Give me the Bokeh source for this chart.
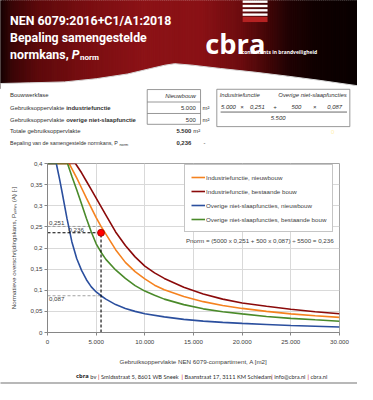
import numpy as np
from bokeh.plotting import figure
from bokeh.layouts import column
from bokeh.models import Range1d, Legend, LegendItem
from bokeh.core.properties import value
from bokeh.embed import file_html
from bokeh.resources import INLINE

# ---------------- data ----------------
series_names = ["Industriefunctie, nieuwbouw", "Industriefunctie, bestaande bouw",
                "Overige niet-slaapfuncties, nieuwbouw", "Overige niet-slaapfuncties, bestaande bouw"]
series_colors = ["#f5821f", "#8b0a0a", "#2b4f9e", "#4a8a2a"]

area_ind_new = [0, 2220, 2500, 3000, 3500, 4000, 4500, 5000, 5500, 6000, 7000, 8000, 9000, 10000,
                11000, 12000, 14000, 16000, 18000, 20000, 22500, 25000, 27500, 30000]
p_ind_new = [0.4, 0.4, 0.388, 0.366, 0.342, 0.318, 0.295, 0.272, 0.251, 0.233, 0.196, 0.166, 0.144,
             0.127, 0.112, 0.101, 0.085, 0.073, 0.064, 0.057, 0.050, 0.044, 0.0395, 0.0357]

area_ind_old = [0, 2870, 3500, 4000, 4500, 5000, 5500, 6000, 7000, 8000, 9000, 10000, 11000, 12000,
                14000, 16000, 18000, 20000, 22500, 25000, 27500, 30000]
p_ind_old = [0.4, 0.4, 0.378, 0.358, 0.338, 0.318, 0.298, 0.278, 0.238, 0.206, 0.179, 0.157, 0.141,
             0.128, 0.107, 0.091, 0.079, 0.070, 0.062, 0.055, 0.049, 0.0443]

area_ovr_new = [0, 905, 1250, 1500, 2000, 2500, 3000, 3500, 4000, 4500, 5000, 5500, 6000, 7000, 8000,
                9000, 10000, 12000, 14000, 16000, 18000, 20000, 22500, 25000, 27500, 30000]
p_ovr_new = [0.4, 0.4, 0.362, 0.332, 0.27, 0.215, 0.175, 0.147, 0.125, 0.108, 0.096, 0.087, 0.079,
             0.066, 0.057, 0.050, 0.0445, 0.037, 0.031, 0.027, 0.024, 0.0215, 0.019, 0.0165, 0.0148, 0.013]

area_ovr_old = [0, 2055, 2500, 3000, 3500, 4000, 4500, 5000, 5500, 6000, 7000, 8000, 9000, 10000,
                11000, 12000, 14000, 16000, 18000, 20000, 22500, 25000, 27500, 30000]
p_ovr_old = [0.4, 0.4, 0.37, 0.338, 0.304, 0.27, 0.238, 0.21, 0.19, 0.173, 0.148, 0.128, 0.111, 0.098,
             0.088, 0.079, 0.066, 0.056, 0.049, 0.044, 0.038, 0.0335, 0.030, 0.0267]

x_ticks = [0, 5000, 10000, 15000, 20000, 25000, 30000]
x_tick_labels = ["0", "5.000", "10.000", "15.000", "20.000", "25.000", "30.000"]
y_ticks = [0, 0.05, 0.1, 0.15, 0.2, 0.25, 0.3, 0.35, 0.4]
y_tick_labels = ["0", "0,05", "0,1", "0,15", "0,2", "0,25", "0,3", "0,35", "0,4"]

bouwwerkfase = "Nieuwbouw"
area_industrie = 5000
area_overig = 500
area_total = 5500
p_industrie = 0.251
p_overig = 0.087
p_norm = 0.236


def nl_int(v):
    return f"{v:,}".replace(",", ".")


def nl_dec(v):
    return f"{v:.3f}".replace(".", ",")


W = 357
BL, BR = 47, 18          # chart borders; the column aligns every frame to these
S = W / 373.0


def fs(px):
    return f"{px * S:.2f}px"


def deco_fig(height, y0, y1):
    # frame is aligned with the chart frame; the x range maps the whole canvas
    # linearly onto the reference's 0..373 layout
    f = figure(width=W, height=height, x_range=Range1d(BL / S, (W - BR) / S), y_range=Range1d(y0, y1),
               output_backend="svg", toolbar_location=None, min_border=0,
               min_border_left=BL, min_border_right=BR,
               x_axis_location=None, y_axis_location=None)
    f.grid.visible = False
    f.outline_line_color = None
    f.background_fill_color = "white"
    f.border_fill_color = "white"
    return f


def unclip(fig):
    for r in fig.renderers:
        r.level = "annotation"


# ---------------- header + table ----------------
hf = deco_fig(158, 165, 0)

stops_x = [0, 12, 40, 90, 150, 210, 250, 275, 300, 330, 373]
stops_c = ["#140203", "#3a0607", "#5e0a0c", "#7a0f12", "#8c1317", "#8a1216", "#6e0d10",
           "#4a0809", "#220304", "#100101", "#0a0101"]
rgb = np.array([[int(c[i:i + 2], 16) for i in (1, 3, 5)] for c in stops_c], dtype=float)
edges = np.arange(0, 374, 2.0)
cols = []
for m in edges + 1.0:
    r = [np.interp(m, stops_x, rgb[:, k]) for k in range(3)]
    cols.append("#%02x%02x%02x" % tuple(int(round(v)) for v in r))
hf.quad(left=edges, right=edges + 2.8, top=0, bottom=92, fill_color=cols, line_color=cols, line_width=0.5)

curve_x = [0, 30, 67, 100, 133, 157, 172, 182, 200, 230, 267, 300, 333, 373]
curve_y = [86.7, 86, 85, 81.7, 76.7, 71, 67.5, 66, 67.5, 71, 75, 79, 83.3, 89]
hf.patch(curve_x + [373, 0], curve_y + [96, 96], fill_color="white", line_color=None)
hf.line(curve_x, curve_y, line_color="#d8d8d8", line_width=1)

white = "white"
hfont = value("Roboto")
hf.text(x=[10, 10, 10], y=[21.7, 39, 56.5], text=["NEN 6079:2016+C1/A1:2018", "Bepaling samengestelde", "normkans,"],
        text_font=hfont, text_font_style="bold", text_font_size=fs(12.9), text_color=white,
        text_baseline="alphabetic")
hf.text(x=[74.5], y=[56.5], text=["P"], text_font=hfont,
        text_font_style="bold italic", text_font_size=fs(12.9), text_color=white, text_baseline="alphabetic")
hf.text(x=[83], y=[60], text=["norm"], text_font=hfont,
        text_font_style="bold", text_font_size=fs(8.4), text_color=white, text_baseline="alphabetic")

# logo
hf.quad(left=253, right=279, top=[0, 4.5, 9, 13.5], bottom=[2.5, 7, 11.5, 16],
        fill_color="white", line_color=None)
hf.quad(left=253, right=279, top=17, bottom=22.5, fill_color="#b52222", line_color=None)
hf.text(x=[214], y=[45], text=["cbra"], text_font=value("Open Sans"), text_font_style="bold",
        text_font_size=fs(28.5), text_color=white, text_baseline="alphabetic")
hf.text(x=[252], y=[54], text=["consultants in brandveiligheid"], text_font=value("Open Sans"),
        text_font_style="bold", text_font_size=fs(5.2), text_color=white, text_baseline="middle")

# table
tf = value("Liberation Sans")
TS = 6.2
tsz = fs(TS)
tcol = "#303030"
row_y = [99, 112.7, 124.3, 136.7, 149]
hf.text(x=[10] * 4, y=[row_y[0], row_y[1], row_y[2], row_y[3]],
        text=["Bouwwerkfase", "Gebruiksoppervlakte", "Gebruiksoppervlakte", "Totale gebruiksoppervlakte"],
        text_font=tf, text_font_size=tsz, text_color=tcol, text_baseline="middle")
hf.text(x=[10 + 9.45 * TS] * 2, y=[row_y[1], row_y[2]], text=["industriefunctie", "overige niet-slaapfunctie"],
        text_font=tf, text_font_style="bold", text_font_size=tsz, text_color=tcol, text_baseline="middle")
hf.text(x=[10], y=[row_y[4]], text=["Bepaling van de samengestelde normkans, P"],
        text_font=tf, text_font_size=fs(5.6), text_color=tcol, text_baseline="middle")
hf.text(x=[10 + 20.34 * 5.6 + 0.3], y=[row_y[4] + 1.4], text=["norm"],
        text_font=tf, text_font_size=fs(4.0), text_color=tcol, text_baseline="middle")

hf.quad(left=153.3, right=209, top=93, bottom=129.3, fill_color=None, line_color="#7f7f7f", line_width=0.8)
hf.segment(x0=[153.3, 153.3], x1=[209, 209], y0=[106, 118], y1=[106, 118], line_color="#7f7f7f", line_width=0.8)
hf.text(x=[204], y=[99.5], text=[bouwwerkfase], text_font=tf, text_font_style="italic",
        text_font_size=tsz, text_color=tcol, text_baseline="middle", text_align="right")
hf.text(x=[204, 204], y=[row_y[1], row_y[2]], text=[nl_int(area_industrie), nl_int(area_overig)],
        text_font=tf, text_font_size=tsz, text_color=tcol, text_baseline="middle", text_align="right")
hf.text(x=[211, 211, 201.5], y=[row_y[1], row_y[2], row_y[3]], text=["m²", "m²", "m²"],
        text_font=tf, text_font_size=tsz, text_color=tcol, text_baseline="middle")
hf.text(x=[199.3, 199.3], y=[row_y[3], row_y[4]], text=[nl_int(area_total), nl_dec(p_norm)],
        text_font=tf, text_font_style="bold", text_font_size=tsz, text_color=tcol,
        text_baseline="middle", text_align="right")
hf.text(x=[212], y=[row_y[4]], text=["-"], text_font=tf, text_font_size=tsz, text_color=tcol,
        text_baseline="middle")

hf.quad(left=226, right=365, top=92.7, bottom=131.7, fill_color=None, line_color="#7f7f7f", line_width=0.8)
hf.segment(x0=[230], x1=[362], y0=[116.5], y1=[116.5], line_color="#404040", line_width=0.8)
hf.text(x=[250, 326], y=[99, 99], text=["Industriefunctie", "Overige niet-slaapfuncties"],
        text_font=tf, text_font_style="italic", text_font_size=tsz, text_color=tcol,
        text_baseline="middle", text_align="center")
hf.text(x=[238.2, 252.3, 268.3, 286.7, 309.2, 328.3, 349.2], y=[111] * 7,
        text=[nl_int(area_industrie), "×", nl_dec(p_industrie), "+", nl_int(area_overig), "×", nl_dec(p_overig)],
        text_font=tf, text_font_style="italic", text_font_size=tsz, text_color=tcol,
        text_baseline="middle", text_align="center")
hf.text(x=[290], y=[122.7], text=[nl_int(area_total)], text_font=tf, text_font_style="italic",
        text_font_size=tsz, text_color=tcol, text_baseline="middle", text_align="center")
hf.text(x=[347], y=[137], text=["0"], text_font=tf, text_font_size=tsz, text_color="#fff0b0",
        text_baseline="middle", text_align="center")
unclip(hf)

# ---------------- chart ----------------
p = figure(width=W, height=212, x_range=Range1d(0, 30000), y_range=Range1d(0, 0.4),
           output_backend="svg", toolbar_location=None,
           min_border_left=BL, min_border_right=BR, min_border_top=5, min_border_bottom=38)
p.background_fill_color = "white"
p.border_fill_color = "white"
p.outline_line_color = "#a6a6a6"
p.outline_line_width = 1

p.xaxis.ticker = x_ticks
p.yaxis.ticker = y_ticks
p.xaxis.major_label_overrides = {t: l for t, l in zip(x_ticks, x_tick_labels)}
p.yaxis.major_label_overrides = {t: l for t, l in zip(y_ticks, y_tick_labels)}
p.xgrid.grid_line_color = "#d9d9d9"
p.ygrid.grid_line_color = "#d9d9d9"
for ax in (p.xaxis, p.yaxis):
    ax.axis_line_color = "#868686"
    ax.major_tick_line_color = "#868686"
    ax.minor_tick_line_color = None
    ax.major_tick_in = 0
    ax.major_tick_out = 3
    ax.major_label_text_font = "Liberation Sans"
    ax.major_label_text_font_size = "6.2px"
    ax.major_label_text_color = "#404040"
    ax.axis_label_text_font = "Liberation Sans"
    ax.axis_label_text_font_size = "6.2px"
    ax.axis_label_text_font_style = "normal"
    ax.axis_label_text_color = "#404040"
p.xaxis.major_label_standoff = 4
p.yaxis.major_label_standoff = 2
p.xaxis.axis_label_standoff = 11
p.yaxis.axis_label_standoff = 10
p.xaxis.axis_label = "Gebruiksoppervlakte NEN 6079-compartiment, A [m2]"
p.yaxis.axis_label = "Normatieve overschrijdingskans, Pₙₒᵣₘ (A) [-]"

p.line([0, area_total], [p_industrie, p_industrie], line_color="#8c8c8c", line_dash="3 2", line_width=0.8)
p.line([0, area_total], [p_overig, p_overig], line_color="#8c8c8c", line_dash="3 2", line_width=0.8)

renderers = []
for xs, ys, c in zip([area_ind_new, area_ind_old, area_ovr_new, area_ovr_old],
                     [p_ind_new, p_ind_old, p_ovr_new, p_ovr_old], series_colors):
    renderers.append(p.line(xs, ys, line_color=c, line_width=1.6))

p.line([0, area_total], [p_norm, p_norm], line_color="black", line_dash="3 2", line_width=1.1)
p.line([area_total, area_total], [0, p_norm], line_color="black", line_dash="3 2", line_width=1.1)
p.scatter([area_total], [p_norm], size=7, fill_color="#ff0000", line_color="#9a0000", line_width=0.8)

p.text(x=[150], y=[p_industrie], text=[nl_dec(p_industrie)], text_font=value("Liberation Sans"),
       text_font_size="6.2px", text_color="#404040", text_baseline="bottom", y_offset=-1)
p.text(x=[2150], y=[p_norm], text=[nl_dec(p_norm)], text_font=value("Liberation Sans"),
       text_font_size="6.2px", text_color="#404040", text_baseline="bottom", y_offset=-1)
p.text(x=[150], y=[p_overig], text=[nl_dec(p_overig)], text_font=value("Liberation Sans"),
       text_font_size="6.2px", text_color="#404040", text_baseline="top", y_offset=1)

formula = (f"Pnorm = ({area_industrie} x {nl_dec(p_industrie)} + {area_overig} x {nl_dec(p_overig)})"
           f" ÷ {area_total} = {nl_dec(p_norm)}")
p.text(x=[29400], y=[0.217], text=[formula], text_font=value("Liberation Sans"),
       text_font_size="6.2px", text_color="#404040", text_baseline="middle", text_align="right")

legend = Legend(items=[LegendItem(label=n, renderers=[r]) for n, r in zip(series_names, renderers)],
                location=(137, 100))
legend.label_text_font = "Liberation Sans"
legend.label_text_font_size = "6.2px"
legend.label_text_color = "#404040"
legend.glyph_width = 14
legend.glyph_height = 12
legend.label_height = 12
legend.label_standoff = 1
legend.spacing = 2
legend.padding = 6
legend.margin = 0
legend.border_line_color = "#8c8c8c"
legend.border_line_width = 1
legend.background_fill_color = "white"
legend.background_fill_alpha = 1
p.add_layout(legend)

# ---------------- footer ----------------
ff = deco_fig(14, 400, 385.8)

footer_parts = [("cbra", "bold", "#202020"), (" bv ", "normal", "#303030"), ("|", "normal", "#c00000"),
                (" Smidsstraat 5, 8601 WB Sneek ", "normal", "#303030"), ("|", "normal", "#c00000"),
                (" Baanstraat 17, 3111 KM Schiedam ", "normal", "#303030"), ("|", "normal", "#c00000"),
                (" info@cbra.nl ", "normal", "#303030"), ("|", "normal", "#c00000"),
                (" cbra.nl", "normal", "#303030")]


def est_w(s, bold=False):
    w = 0.0
    for ch in s:
        if ch in "il.,:;|'!j":
            w += 0.24
        elif ch == " ":
            w += 0.26
        elif ch in "frt1":
            w += 0.36
        elif ch in "mwMW@":
            w += 0.82
        elif ch.isupper():
            w += 0.66
        else:
            w += 0.52
    return w * (1.12 if bold else 1.0)


widths = [est_w(t, st == "bold") for t, st, c in footer_parts]
scale_w = (342 - 79) / sum(widths)
xcur = 79.0
for (t, st, c), w in zip(footer_parts, widths):
    lead = len(t) - len(t.lstrip(" "))
    fnt = value("Open Sans") if st == "bold" else value("Lato")
    ff.text(x=[xcur + est_w(" " * lead) * scale_w], y=[391.5], text=[t.strip()],
            text_font=fnt, text_font_style=st, text_font_size=fs(6.0),
            text_color=c, text_baseline="middle")
    xcur += w * scale_w
ff.segment(x0=[0], x1=[373], y0=[398.5], y1=[398.5], line_color="#a0a0a0", line_width=1.5)
unclip(ff)

layout = column(hf, p, ff, spacing=0)
open("out.html", "w").write(file_html(layout, INLINE))
